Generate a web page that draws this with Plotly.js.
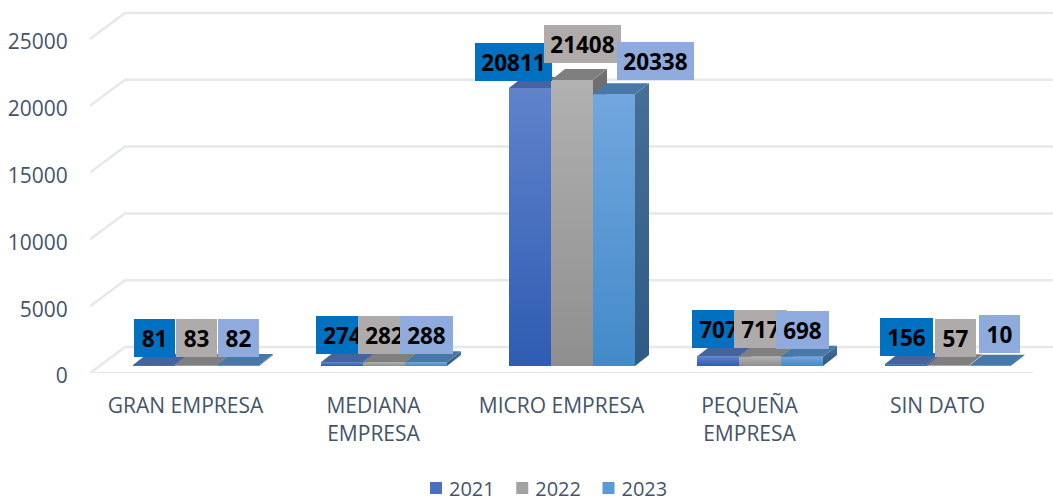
<!DOCTYPE html>
<html>
<head>
<meta charset="utf-8">
<script src="https://cdn.plot.ly/plotly-3.0.1.min.js"></script>
<style>html,body{margin:0;padding:0;background:#fff}#chart{width:1053px;height:501px}</style>
</head>
<body>
<div id="chart"></div>
<script>
// ---- data ----
const categories = ['GRAN EMPRESA', 'MEDIANA<br>EMPRESA', 'MICRO EMPRESA', 'PEQUEÑA<br>EMPRESA', 'SIN DATO'];
const years = ['2021', '2022', '2023'];
const values2021 = [81, 274, 20811, 707, 156];
const values2022 = [83, 282, 21408, 717, 57];
const values2023 = [82, 288, 20338, 698, 10];
const yTicks = [0, 5000, 10000, 15000, 20000, 25000];
// ---- styles ----
const frontTop = ['#6083cb', '#b1b1b1', '#72a7de'];
const frontBottom = ['#2e5cb2', '#8f8f8f', '#438ac9'];
const topFace = ['#45649f', '#7f7f7f', '#4878a8'];
const sideTop = ['#3f5e96', '#707070', '#486f94'];
const sideBottom = ['#2b4a80', '#5a5a5a', '#2f5a85'];
const labelFill = ['#0070c0', '#afabab', '#8faadc'];
const legendMid = ['#4a70c0', '#a3a3a3', '#5a9ad6'];
const textCol = '#44546a', gridCol = '#e5e8ed';
// label boxes, page pixels: left, top, width
const labelBoxes = [
  [[134,319,41],[316,316,53],[475,43,77],[692,310,53],[880,318,53]],
  [[176,319,41],[358,316,53],[544,25,77],[734,310,53],[935,319,41]],
  [[218,319,41],[400,316,53],[617,42,77],[776,311,53],[979,315,41]]
];
// ---- scales ----
const W = 1053, H = 501, left = 90, y0px = 373;
const pxPerCat = 188, cat0px = 185.5, pxPerUnit = 66.8 / 5000;
const xRange = [(left - cat0px) / pxPerCat, (W - cat0px) / pxPerCat];
const yRange = [0, y0px * (1 / pxPerUnit)];
const X = p => (p - cat0px) / pxPerCat;           // page px -> x data
const Y = p => (y0px - p) / pxPerUnit;            // page px -> y data
const dpx = n => n / pxPerCat, dpy = n => n / pxPerUnit;
const barW = dpx(42), depthX = dpx(14), depthY = dpy(11), base = dpy(7);
const groupStart = dpx(133 - cat0px);
const all = [values2021, values2022, values2023];

const traces = [];
// gridlines: wall and floor
yTicks.forEach(v => traces.push({
  x: [X(left), X(125), X(W)], y: [v, v + dpy(26), v + dpy(26)],
  mode: 'lines', line: {color: gridCol, width: 2.5}, showlegend: false, hoverinfo: 'skip'
}));
traces.push({x: [X(left), X(1033)], y: [0, 0], mode: 'lines',
  line: {color: gridCol, width: 2.5}, showlegend: false, hoverinfo: 'skip'});
// legend / base bars
all.forEach((vals, s) => traces.push({
  type: 'bar', name: years[s], x: vals.map((_, i) => i + groupStart + s * barW + barW / 2),
  y: vals, base: vals.map(() => base), width: barW,
  marker: {color: legendMid[s], line: {width: 0}}, hoverinfo: 'skip'
}));
const poly = (xs, ys, top, bottom) => ({
  x: xs, y: ys, mode: 'lines', fill: 'toself', line: {width: 0}, showlegend: false, hoverinfo: 'skip',
  fillcolor: top,
  fillgradient: {type: 'vertical', colorscale: [[0, bottom], [1, top]]}
});
categories.forEach((_, i) => all.forEach((vals, s) => {
  const a = i + groupStart + s * barW, b = a + barW, t = base + vals[i];
  // side face
  traces.push(poly([b, b + depthX, b + depthX, b, b],
    [base, base + depthY, t + depthY, t, base], sideTop[s], sideBottom[s]));
  // top face
  traces.push({x: [a, b, b + depthX, a + depthX, a], y: [t, t, t + depthY, t + depthY, t],
    mode: 'lines', fill: 'toself', fillcolor: topFace[s], line: {width: 0}, showlegend: false, hoverinfo: 'skip'});
  // front face
  traces.push(poly([a, b, b, a, a], [base, base, t, t, base], frontTop[s], frontBottom[s]));
}));

const annotations = [];
all.forEach((vals, s) => vals.forEach((v, i) => {
  const [l, t, w] = labelBoxes[s][i];
  annotations.push({
    x: X(l), y: Y(t), xref: 'x', yref: 'y', xanchor: 'left', yanchor: 'top',
    text: '<b>' + v + '</b>', showarrow: false, width: w, height: 38, align: 'center', valign: 'middle',
    bgcolor: labelFill[s], borderpad: 0, borderwidth: 0,
    font: {family: 'Open Sans', size: 22.5, color: '#000'}
  });
}));

Plotly.newPlot('chart', traces, {
  width: W, height: H, margin: {l: left, r: 0, t: 0, b: H - y0px, autoexpand: false},
  paper_bgcolor: '#fff', plot_bgcolor: 'rgba(0,0,0,0)', barmode: 'overlay',
  font: {family: 'Open Sans', color: textCol},
  showlegend: true,
  legend: {orientation: 'h', xref: 'container', yref: 'container', x: 409 / W, xanchor: 'left', y: 13 / H, yanchor: 'middle',
    font: {size: 20, color: textCol}, traceorder: 'normal', bgcolor: 'rgba(0,0,0,0)'},
  xaxis: {range: xRange, tickmode: 'array', tickvals: categories.map((_, i) => i), ticktext: categories, automargin: false,
    showgrid: false, zeroline: false, showline: false, ticks: 'outside', ticklen: 14, tickcolor: 'rgba(0,0,0,0)',
    tickangle: 0, tickfont: {family: 'Open Sans', size: 21, color: textCol}},
  yaxis: {range: yRange, tickmode: 'array', tickvals: yTicks, tickformat: 'd', showgrid: false, zeroline: false, showline: false, automargin: false,
    ticks: 'outside', ticklen: 17, tickcolor: 'rgba(0,0,0,0)', ticklabelshift: 3,
    tickfont: {family: 'Open Sans', size: 21, color: textCol}},
  annotations: annotations
}, {displayModeBar: false, staticPlot: true}).then(() => {
  // the reference keeps its legend entries tighter than the library's minimum
  const nudge = (n, dx) => n.setAttribute('transform', (n.getAttribute('transform') || '') + ' translate(' + dx + ',0)');
  document.querySelectorAll('#chart .legend .traces').forEach((n, i) => {
    nudge(n, -4.5 * i);
    n.querySelectorAll('.legendsymbols, .legendfill, .legendpoints').forEach(m => nudge(m, 3.5));
  });
});
</script>
</body>
</html>
